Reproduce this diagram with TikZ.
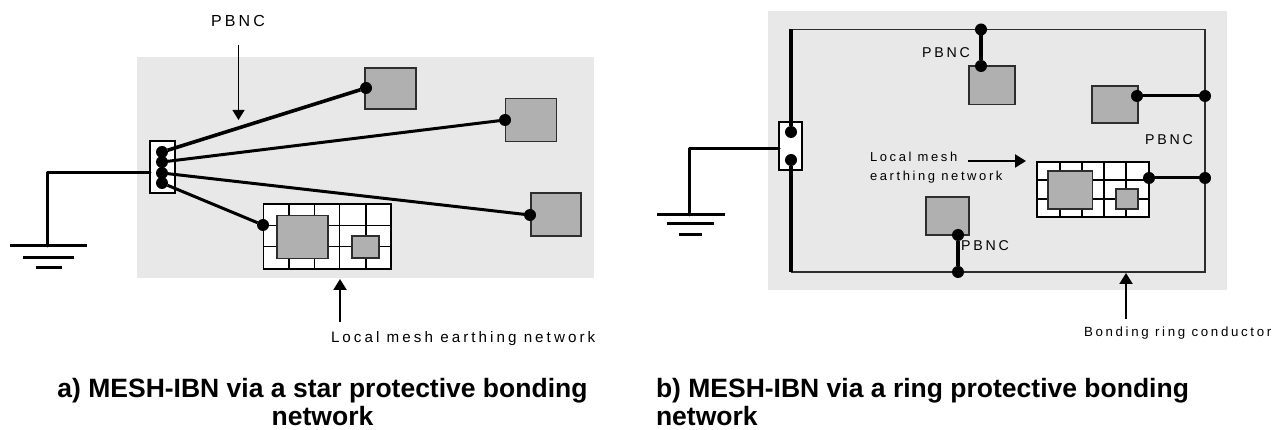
\documentclass[tikz,border=0pt]{standalone}
\usepackage{fontspec}
\setmainfont{Liberation Sans}
\newfontfamily\labelfont[LetterSpace=20]{Liberation Sans}
\usetikzlibrary{arrows.meta}

\tikzset{
	panel/.style={draw=none, fill=panelcolor, inner sep=0pt, outer sep=0pt},
	device/.style={draw=linecolor, fill=devicecolor, line width=1.2pt, inner sep=0pt, outer sep=0pt},
	meshbox/.style={draw=black, fill=white, line width=1.2pt, inner sep=0pt, outer sep=0pt},
	terminal/.style={draw=black, fill=white, line width=1.2pt, inner sep=0pt, outer sep=0pt},
	bond/.style={circle, fill=black, inner sep=0pt, minimum size=12pt, outer sep=0pt},
	wire/.style={line width=3pt, line cap=round, line join=round},
	thickwire/.style={line width=3.6pt},
	ringwire/.style={line width=1.4pt, draw=linecolor},
	meshline/.style={line width=1.2pt},
	earth/.style={line width=3pt},
	pointer/.style={line width=1.4pt, -{Triangle[length=10pt,width=12pt]}},
	pointerb/.style={line width=2.2pt, -{Triangle[length=11pt,width=13pt]}},
	lbl/.style={inner sep=0pt, outer sep=0pt, anchor=west, font=\labelfont\fontsize{14.2}{19}\selectfont, align=left},
	caption/.style={inner sep=0pt, outer sep=0pt, font=\bfseries\fontsize{26.5}{28}\selectfont}
}

\begin{document}
\begin{tikzpicture}[x=1pt, y=-1pt]

	% Colors
	\definecolor{panelcolor}{RGB}{232,232,232}
	\definecolor{devicecolor}{RGB}{176,176,176}
	\definecolor{linecolor}{RGB}{45,45,45}

	\useasboundingbox (0,0) rectangle (1286,430);

	% Panels
	\node (panela) [panel, minimum width=457pt, minimum height=221pt] at (365.5,167.5) {};
	\node (panelb) [panel, minimum width=459pt, minimum height=279pt] at (997.5,150.5) {};

	% Star: terminal
	\node (terma) [terminal, minimum width=25pt, minimum height=52pt] at (162.5,167) {};
	\node (stara) [bond] at (162,152) {};
	\node (starb) [bond] at (162,162) {};
	\node (starc) [bond] at (162,173) {};
	\node (stard) [bond] at (162,183) {};

	% Star: equipment
	\node (deva) [device, minimum width=51pt, minimum height=41pt] at (390.5,88.5) {};
	\node (devb) [device, minimum width=51pt, minimum height=43pt] at (531,120) {};
	\node (devc) [device, minimum width=50pt, minimum height=43pt] at (556,214.5) {};
	\node (bonda) [bond] at (366,88) {};
	\node (bondb) [bond] at (505,120) {};
	\node (bondc) [bond] at (530,215) {};

	% Star: local mesh
	\node (mesha) [meshbox, minimum width=127.5pt, minimum height=65pt] at (327.25,236.5) {};
	\draw[meshline] (289,204) -- (289,269);
	\draw[meshline] (314.5,204) -- (314.5,269);
	\draw[meshline] (339.5,204) -- (339.5,269);
	\draw[meshline] (366,204) -- (366,269);
	\draw[meshline] (263.5,225.5) -- (391,225.5);
	\draw[meshline] (263.5,246.5) -- (391,246.5);
	\node (meshadeva) [device, minimum width=51pt, minimum height=43pt] at (302.5,237) {};
	\node (meshadevb) [device, minimum width=27pt, minimum height=22pt] at (365.5,247) {};
	\node (bondd) [bond] at (263,225) {};

	% Star: connections
	\draw[thickwire] (stara) -- (bonda);
	\draw[wire] (starb) -- (bondb);
	\draw[wire] (starc) -- (bondc);
	\draw[line width=3pt] (stard) -- (bondd);

	% Star: earth
	\coordinate (corna) at (47,173);
	\coordinate (grounda) at (47,246);
	\draw[wire] (terma.west |- corna) -- (corna) -- (grounda);
	\draw[earth] (10,246) -- (87,246);
	\draw[earth] (23,257.5) -- (74,257.5);
	\draw[earth] (36,268) -- (62,268);

	% Star: labels
	\node (pbnca) [lbl, font=\labelfont\fontsize{16}{19}\selectfont] at (211,21) {PBNC};
	\coordinate (pbncafrom) at (238.5,45);
	\coordinate (pbncato) at (238.5,120);
	\draw[pointer] (pbncafrom) -- (pbncato);
	\node (locala) [lbl, font=\labelfont\fontsize{15.2}{19}\selectfont] at (331,339) {Local mesh earthing network};
	\coordinate (localafrom) at (340,322);
	\coordinate (localato) at (340,279);
	\draw[pointerb] (localafrom) -- (localato);

	% Ring: conductor
	\coordinate (ringtl) at (791,29.5);
	\coordinate (ringtr) at (1205,29.5);
	\coordinate (ringbr) at (1205,272);
	\coordinate (ringbl) at (791,272);
	\draw[ringwire] (ringtl) -- (ringtr) -- (ringbr) -- (ringbl);

	% Ring: terminal
	\node (termb) [terminal, minimum width=23pt, minimum height=48pt] at (790.5,146) {};
	\node (ringa) [bond] at (791,132) {};
	\node (ringb) [bond] at (791,160) {};
	\draw[thickwire] (ringtl) -- (ringa);
	\draw[thickwire] (ringb) -- (ringbl);

	% Ring: equipment
	\node (devd) [device, minimum width=46pt, minimum height=38.5pt] at (992,85.25) {};
	\node (deve) [device, minimum width=46pt, minimum height=37pt] at (1115,104.5) {};
	\node (devf) [device, minimum width=43pt, minimum height=38pt] at (947.5,216) {};

	% Ring: local mesh
	\node (meshb) [meshbox, minimum width=112pt, minimum height=55pt] at (1093,189.5) {};
	\draw[meshline] (1060,162) -- (1060,217);
	\draw[meshline] (1082,162) -- (1082,217);
	\draw[meshline] (1104,162) -- (1104,217);
	\draw[meshline] (1126,162) -- (1126,217);
	\draw[meshline] (1037,180) -- (1149,180);
	\draw[meshline] (1037,199) -- (1149,199);
	\node (meshbdeva) [device, minimum width=44.5pt, minimum height=38pt] at (1070.25,190) {};
	\node (meshbdevb) [device, minimum width=22pt, minimum height=20pt] at (1127,199) {};

	% Ring: connections
	\node (bonde) [bond] at (981,29.5) {};
	\node (bondf) [bond] at (981,66) {};
	\node (bondg) [bond] at (1137,96) {};
	\node (bondh) [bond] at (1205,96) {};
	\node (bondi) [bond] at (1149,178) {};
	\node (bondj) [bond] at (1205,178) {};
	\node (bondk) [bond] at (958,235) {};
	\node (bondl) [bond] at (958,272) {};
	\draw[thickwire] (bonde) -- (bondf);
	\draw[wire] (bondg) -- (bondh);
	\draw[wire] (bondi) -- (bondj);
	\draw[thickwire] (bondk) -- (bondl);

	% Ring: earth
	\coordinate (cornb) at (689,149);
	\coordinate (groundb) at (689,215);
	\draw[wire] (termb.west |- cornb) -- (cornb) -- (groundb);
	\draw[earth] (657,215) -- (725,215);
	\draw[earth] (667,224) -- (714,224);
	\draw[earth] (679,235) -- (702,235);

	% Ring: labels
	\node (pbncb) [lbl] at (922,53) {PBNC};
	\node (pbncc) [lbl] at (1145,140) {PBNC};
	\node (pbncd) [lbl] at (961,246) {PBNC};
	\node (localb) [lbl, font=\labelfont\fontsize{13}{19}\selectfont] at (870,168) {Local mesh\\earthing network};
	\coordinate (localbfrom) at (968,161);
	\coordinate (localbto) at (1026,161);
	\draw[pointerb] (localbfrom) -- (localbto);
	\node (ringlabel) [lbl, font=\labelfont\fontsize{13.3}{14}\selectfont] at (1084,333) {Bonding ring conductor};
	\coordinate (ringfrom) at (1126,319);
	\coordinate (ringto) at (1126,273);
	\draw[pointerb] (ringfrom) -- (ringto);

	% Captions
	\node (capa) [caption, anchor=north, align=center] at (322.5,378) {a) MESH-IBN via a star protective bonding\\network};
	\node (capb) [caption, anchor=north west, align=left] at (656,378) {b) MESH-IBN via a ring protective bonding\\network};

\end{tikzpicture}
\end{document}
